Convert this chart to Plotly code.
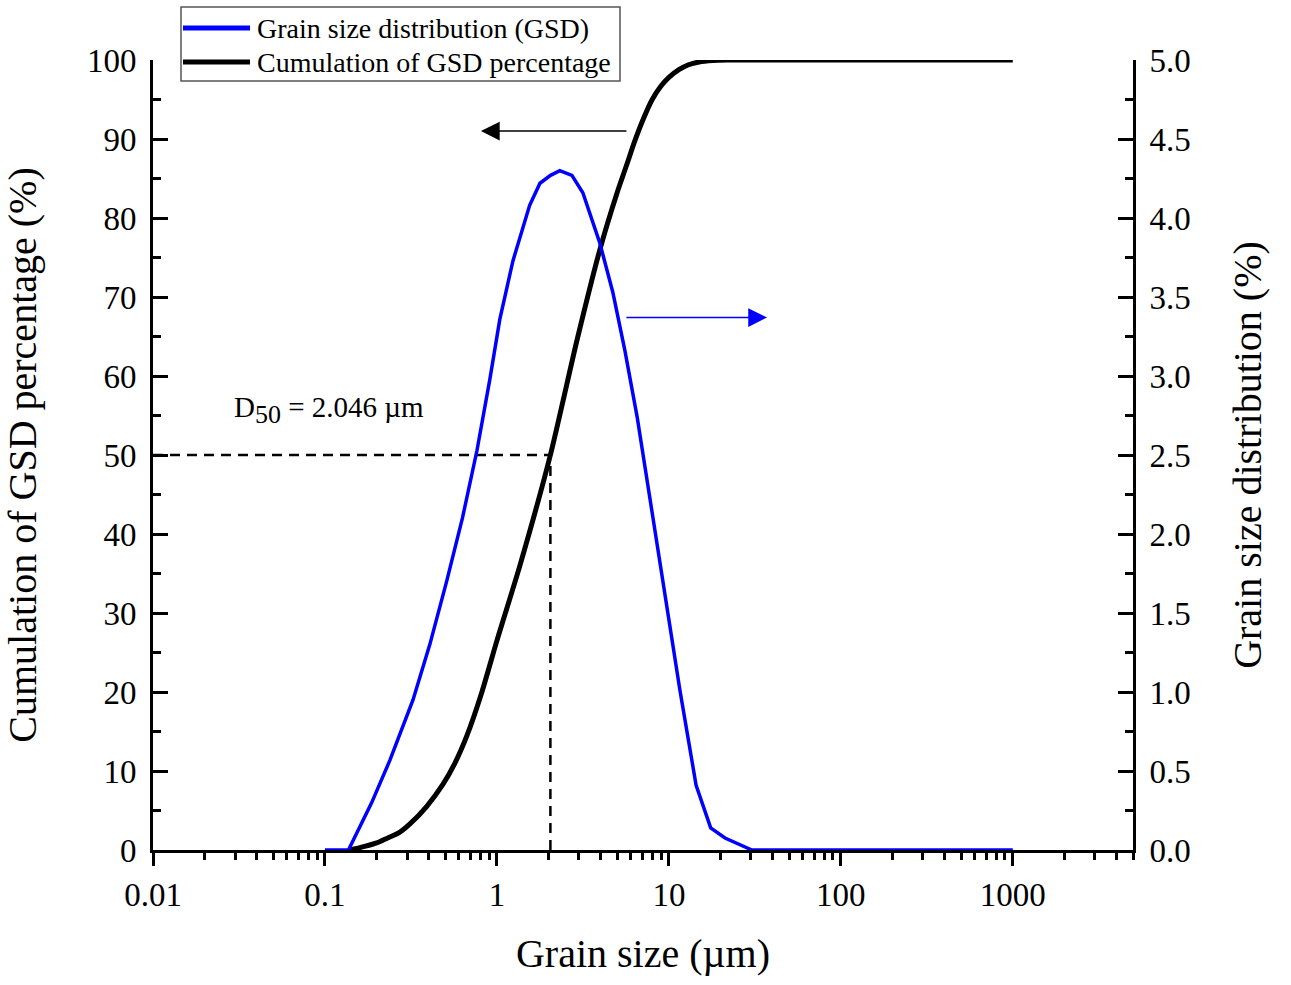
import math
import plotly.graph_objects as go

# ---- data ----
size_gsd = [0.1, 0.137, 0.187, 0.239, 0.325, 0.407, 0.51, 0.63, 0.766, 0.91, 1.04,
            1.24, 1.55, 1.78, 2.05, 2.32, 2.73, 3.16, 3.97, 4.72, 5.55, 6.54, 7.13,
            8.3, 9.87, 11.6, 14.4, 17.5, 21.2, 30.4, 1000]
gsd_pct = [0, 0, 0.30, 0.57, 0.95, 1.30, 1.70, 2.10, 2.53, 2.98, 3.36,
           3.73, 4.08, 4.22, 4.27, 4.30, 4.27, 4.16, 3.84, 3.53, 3.16, 2.74, 2.48,
           2.03, 1.52, 1.01, 0.41, 0.14, 0.076, 0, 0]

size_cum = [0.137, 0.15, 0.17, 0.2, 0.23, 0.27, 0.312, 0.39, 0.485, 0.57, 0.67,
            0.818, 1.0, 1.36, 2.046, 2.92, 3.97, 5.0, 5.7, 6.3, 7.06, 8.0, 9.0,
            10.0, 11.5, 13.0, 15.0, 18.0, 22.0, 30.0, 1000]
cum_pct = [0, 0.15, 0.45, 0.9, 1.5, 2.2, 3.3, 5.5, 8.3, 11.0, 14.5,
           20.0, 26.5, 36, 50, 64.5, 76, 83.2, 86.8, 89.6, 92.4, 95.0, 96.7,
           97.8, 98.8, 99.4, 99.75, 99.93, 100, 100, 100]

d50 = 2.046
x_tickvals = [0.01, 0.1, 1, 10, 100, 1000]
x_ticktext = ["0.01", "0.1", "1", "10", "100", "1000"]
x_max = 5000

series_names = ["Grain size distribution (GSD)", "Cumulation of GSD percentage"]

FONT = "Liberation Serif"
BLUE = "#0000FF"
SERIES_COLORS = [BLUE, "black"]

fig = go.Figure()

fig.add_trace(go.Scatter(x=size_gsd, y=gsd_pct, mode="lines", yaxis="y2",
                         name=series_names[0], showlegend=False,
                         line=dict(color=BLUE, width=3.5)))
fig.add_trace(go.Scatter(x=size_cum, y=cum_pct, mode="lines", yaxis="y",
                         name=series_names[1], showlegend=False,
                         line=dict(color="black", width=5, shape="spline", smoothing=0.6)))

# D50 guide lines
fig.add_trace(go.Scatter(x=[x_tickvals[0], d50], y=[50, 50], mode="lines",
                         showlegend=False, hoverinfo="skip",
                         line=dict(color="black", width=2.5, dash="10px,7px")))
fig.add_trace(go.Scatter(x=[d50, d50], y=[0, 50], mode="lines",
                         showlegend=False, hoverinfo="skip",
                         line=dict(color="black", width=2.5, dash="10px,7px")))

# D50 label
fig.add_annotation(x=math.log10(0.0287), y=55.7, xref="x", yref="y",
                   text="D<sub><span style='font-size:26px'>50</span></sub> = 2.046 µm",
                   showarrow=False, xanchor="left", yanchor="middle",
                   font=dict(family=FONT, size=29, color="black"))

# arrows pointing to the axes
fig.add_annotation(x=math.log10(0.807), y=91, ax=math.log10(5.78), ay=91,
                   xref="x", yref="y", axref="x", ayref="y", text="",
                   showarrow=True, arrowhead=2, arrowsize=2.5, arrowwidth=1.5,
                   arrowcolor="black")
fig.add_annotation(x=math.log10(37.2), y=3.37, ax=math.log10(5.55), ay=3.37,
                   xref="x", yref="y2", axref="x", ayref="y2", text="",
                   showarrow=True, arrowhead=2, arrowsize=2.5, arrowwidth=1.5,
                   arrowcolor=BLUE)

# custom legend (framed box with long line samples)
def px_x(p):
    return (p - 153) / 980.0

def px_y(p):
    return (850 - p) / 790.0

fig.add_shape(type="rect", xref="paper", yref="paper",
              x0=px_x(181), x1=px_x(620), y0=px_y(81), y1=px_y(7),
              line=dict(color="#555555", width=1.5), fillcolor="white", layer="above")
for i, (nm, col) in enumerate(zip(series_names, SERIES_COLORS)):
    yy = px_y(28 + 34 * i)
    fig.add_shape(type="line", xref="paper", yref="paper",
                  x0=px_x(183), x1=px_x(250), y0=yy, y1=yy,
                  line=dict(color=col, width=5), layer="above")
    fig.add_annotation(x=px_x(255), y=yy, xref="paper", yref="paper",
                       text=nm, showarrow=False, xanchor="left", yanchor="middle",
                       font=dict(family=FONT, size=28, color="black"))

tickfont = dict(family=FONT, size=33, color="black")
titlefont = dict(family=FONT, size=40, color="black")

fig.update_layout(
    width=1291, height=985,
    margin=dict(l=153, r=158, t=60, b=135, autoexpand=False),
    paper_bgcolor="white", plot_bgcolor="white",
    font=dict(family=FONT, color="black"),
    showlegend=False,
    xaxis=dict(
        type="log", range=[-2, math.log10(x_max)],
        tickvals=x_tickvals, ticktext=x_ticktext,
        showline=True, linecolor="black", linewidth=3, mirror=False,
        ticks="outside", ticklen=13, tickwidth=3, tickcolor="black",
        minor=dict(ticks="outside", ticklen=7, tickwidth=2.5, tickcolor="black",
                   dtick="D1", showgrid=False),
        showgrid=False, zeroline=False, tickfont=tickfont,
        title=dict(text="Grain size (µm)", font=titlefont, standoff=28),
    ),
    yaxis=dict(
        range=[0, 100], dtick=10,
        showline=True, linecolor="black", linewidth=3,
        ticks="inside", ticklen=15, tickwidth=3, tickcolor="black",
        minor=dict(ticks="inside", ticklen=8, tickwidth=2.5, tickcolor="black",
                   dtick=5, showgrid=False),
        showgrid=False, zeroline=False, tickfont=tickfont,
        ticklabelstandoff=7,
        title=dict(text="Cumulation of GSD percentage (%)", font=titlefont, standoff=40),
    ),
    yaxis2=dict(
        range=[0, 5], dtick=0.5, tickformat=".1f",
        overlaying="y", side="right",
        showline=True, linecolor="black", linewidth=3,
        ticks="inside", ticklen=15, tickwidth=3, tickcolor="black",
        minor=dict(ticks="inside", ticklen=8, tickwidth=2.5, tickcolor="black",
                   dtick=0.25, showgrid=False),
        showgrid=False, zeroline=False, tickfont=tickfont,
        ticklabelstandoff=7,
        title=dict(text="Grain size distribution (%)", font=titlefont, standoff=44),
    ),
)

fig.write_html("out.html")
